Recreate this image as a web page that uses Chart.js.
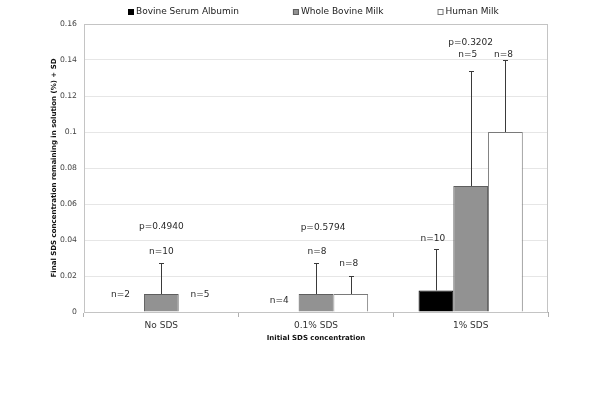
<!DOCTYPE html>
<html>
<head>
<meta charset="utf-8">
<script src="https://cdn.jsdelivr.net/npm/chart.js@4"></script>
<style>
  html, body { margin: 0; padding: 0; background: #fff; }
  #wrap { width: 600px; height: 404px; }
</style>
</head>
<body>
<div id="wrap"><canvas id="sds-chart" width="600" height="404"></canvas></div>
<script>
// Data
const categories = ['No SDS', '0.1% SDS', '1% SDS'];
const seriesNames = ['Bovine Serum Albumin', 'Whole Bovine Milk', 'Human Milk'];

const bsaMean = [0, 0, 0.012];
const bsaSD = [0, 0, 0.023];
const wbmMean = [0.01, 0.01, 0.07];
const wbmSD = [0.017, 0.017, 0.064];
const hmMean = [0, 0.01, 0.1];
const hmSD = [0, 0.01, 0.04];

const bsaN = ['n=2', 'n=4', 'n=10'];
const wbmN = ['n=10', 'n=8', 'n=5'];
const hmN = ['n=5', 'n=8', 'n=8'];
const pValues = ['p=0.4940', 'p=0.5794', 'p=0.3202'];

const yTicks = [0, 0.02, 0.04, 0.06, 0.08, 0.1, 0.12, 0.14, 0.16];

// Where the hand-placed text labels sit (value on y axis, small x nudge in px)
const nLabelPlace = [
    [[0.0095, -6], [0.0061, -2], [0.0408, -3]],
    [[0.0334, 0], [0.0334, 1], [0.1428, -3]],
    [[0.0095, 4], [0.0269, -2], [0.1428, -2]]
];
const pLabelPlace = [[0.0473, 0], [0.0467, 7], [0.1497, 0]];

const FONT = 'DejaVu Sans, Verdana, sans-serif';
const barColors = ['#000000', '#929292', '#ffffff'];
const barBorders = ['#000000', '#5e5e5e', '#7a7a7a'];

const sds = [bsaSD, wbmSD, hmSD];
const nLabels = [bsaN, wbmN, hmN];

/*==================== ERROR BARS + LABELS ====================*/
const annotate = {
    id: 'annotate',
    beforeDatasetsDraw(chart) {
        const {ctx, chartArea: a} = chart;
        ctx.save();
        ctx.strokeStyle = '#c4c4c4';
        ctx.lineWidth = 1;
        ctx.strokeRect(Math.round(a.left) + 0.5, Math.round(a.top) + 0.5,
            Math.round(a.right - a.left) - 1, Math.round(a.bottom - a.top));
        ctx.restore();
    },
    afterDatasetsDraw(chart) {
        const {ctx} = chart;
        const y = chart.scales.y;
        ctx.save();
        // error bars (upper only)
        chart.data.datasets.forEach((ds, d) => {
            const meta = chart.getDatasetMeta(d);
            meta.data.forEach((bar, i) => {
                const sd = sds[d][i];
                if (!sd) return;
                const x = Math.round(bar.x) + 0.5;
                const top = Math.round(y.getPixelForValue(ds.data[i] + sd)) + 0.5;
                ctx.strokeStyle = '#3a3a3a';
                ctx.lineWidth = 1;
                ctx.beginPath();
                ctx.moveTo(x, bar.y);
                ctx.lineTo(x, top);
                ctx.moveTo(x - 2.5, top);
                ctx.lineTo(x + 2.5, top);
                ctx.stroke();
            });
        });
        // n= and p= texts
        ctx.fillStyle = '#2a2a2a';
        ctx.font = '9px ' + FONT;
        ctx.textAlign = 'center';
        ctx.textBaseline = 'middle';
        chart.data.datasets.forEach((ds, d) => {
            const meta = chart.getDatasetMeta(d);
            meta.data.forEach((bar, i) => {
                const [v, dx] = nLabelPlace[d][i];
                ctx.fillText(nLabels[d][i], bar.x + dx, y.getPixelForValue(v));
            });
        });
        const x = chart.scales.x;
        pValues.forEach((t, i) => {
            const [v, dx] = pLabelPlace[i];
            ctx.fillText(t, x.getPixelForValue(i) + dx, y.getPixelForValue(v));
        });
        ctx.restore();
    },
    afterDraw(chart) {
        // legend row across the top
        const {ctx, chartArea: a} = chart;
        ctx.save();
        ctx.font = '9px ' + FONT;
        ctx.textBaseline = 'middle';
        ctx.textAlign = 'left';
        const box = 6, gapIn = 2, gapOut = 54;
        const widths = seriesNames.map(s => box + gapIn + ctx.measureText(s).width);
        const total = widths.reduce((s, w) => s + w, 0) + gapOut * (widths.length - 1);
        let cx = Math.round((a.left + a.right) / 2 - total / 2 - 3);
        const cy = 12;
        seriesNames.forEach((s, i) => {
            ctx.fillStyle = barColors[i];
            ctx.fillRect(cx, cy - 3, box, box);
            ctx.strokeStyle = barBorders[i];
            ctx.lineWidth = 1;
            ctx.strokeRect(cx + 0.5, cy - 2.5, box - 1, box - 1);
            ctx.fillStyle = '#222';
            ctx.fillText(s, cx + box + gapIn, cy);
            cx += widths[i] + gapOut;
        });
        ctx.restore();
    }
};

const ctx = document.getElementById('sds-chart').getContext('2d');

new Chart(ctx, {
    type: 'bar',
    data: {
        labels: categories,
        datasets: [bsaMean, wbmMean, hmMean].map((vals, d) => ({
            label: seriesNames[d],
            data: vals,
            backgroundColor: barColors[d],
            borderColor: barBorders[d],
            borderWidth: c => (c.raw === 0 ? 0 : 1),
            categoryPercentage: 0.674,
            barPercentage: 1.0
        }))
    },
    options: {
        responsive: false,
        animation: false,
        layout: { padding: { left: 44, right: 52, top: 24, bottom: 52 } },
        plugins: {
            legend: { display: false },
            tooltip: { enabled: false }
        },
        scales: {
            x: {
                afterFit: s => { s.height = 40; },
                grid: {
                    offset: true,
                    drawOnChartArea: false,
                    drawTicks: true,
                    tickLength: 5,
                    color: '#b0b0b0'
                },
                border: { color: '#a8a8a8' },
                ticks: { color: '#333', font: { family: FONT, size: 9 }, padding: 3 },
                title: {
                    display: true,
                    text: 'Initial SDS concentration',
                    color: '#111',
                    font: { family: FONT, size: 7, weight: 'bold' },
                    padding: { top: 0, bottom: 9.5 }
                }
            },
            y: {
                min: 0,
                max: 0.16,
                afterFit: s => { s.width = 40; },
                afterBuildTicks: s => { s.ticks = yTicks.map(v => ({ value: v })); },
                grid: { color: '#e6e6e6', drawTicks: false },
                border: { color: '#a8a8a8' },
                ticks: {
                    color: '#444',
                    font: { family: FONT, size: 7.7 },
                    padding: 7,
                    callback: v => String(+v.toFixed(2))
                },
                title: {
                    display: true,
                    text: 'Final SDS concentration remaining in solution (%) + SD',
                    color: '#111',
                    font: { family: FONT, size: 7, weight: 'bold' },
                    padding: { top: 5.5, bottom: 0 }
                }
            }
        }
    },
    plugins: [annotate]
});
</script>
</body>
</html>
